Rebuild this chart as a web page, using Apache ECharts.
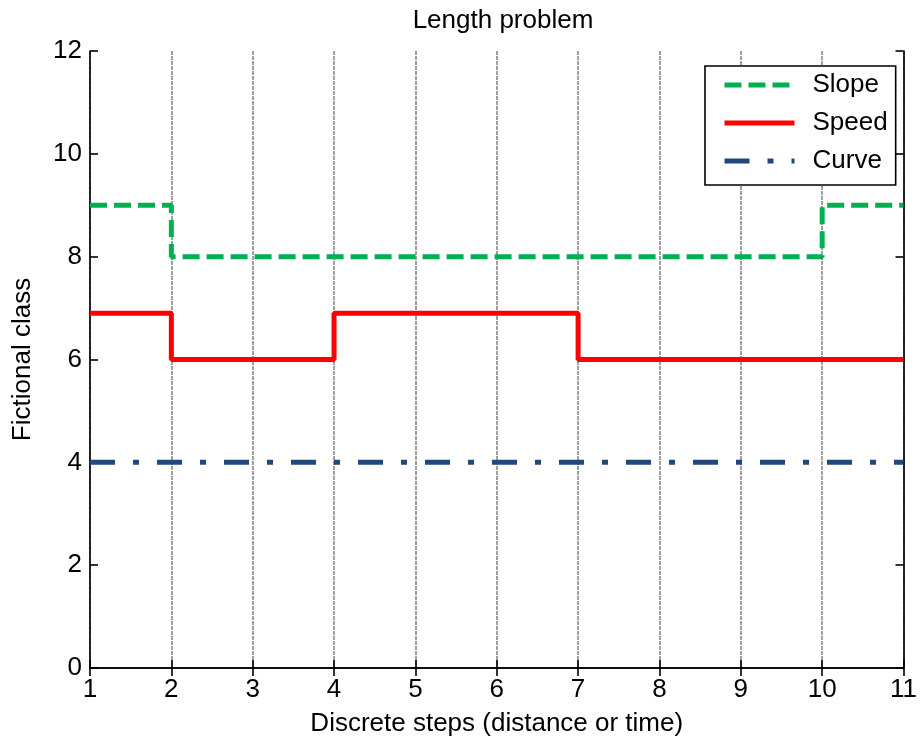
<!DOCTYPE html>
<html>
<head>
<meta charset="utf-8">
<script src="https://cdn.jsdelivr.net/npm/echarts@6/dist/echarts.min.js"></script>
<style>
  html, body { margin: 0; padding: 0; background: #fff; }
  #chart { width: 920px; height: 742px; }
</style>
</head>
<body>
<div id="chart"></div>
<script>
// Discrete step positions and the class of each signal at every step
const steps = [1, 2, 3, 4, 5, 6, 7, 8, 9, 10, 11];
const slope = [9, 8, 8, 8, 8, 8, 8, 8, 8, 9, 9];
const speed = [6.9, 6, 6, 6.9, 6.9, 6.9, 6, 6, 6, 6, 6];
const curve = [4, 4, 4, 4, 4, 4, 4, 4, 4, 4, 4];
const seriesNames = ['Slope', 'Speed', 'Curve'];

const FONT = 'Liberation Sans, Arial, sans-serif';
const FS = 26;

const pairs = vals => steps.map((s, i) => [s, vals[i]]);

const frameAxis = {
  axisLine: { show: true, lineStyle: { color: '#000', width: 1.6 } },
  axisTick: { show: true, inside: true, length: 8, lineStyle: { color: '#000', width: 1.6 } },
  splitLine: { show: false }
};

const chart = echarts.init(document.getElementById('chart'), null, { renderer: 'canvas' });
chart.setOption({
  backgroundColor: '#fff',
  animation: false,
  textStyle: { fontFamily: FONT },
  title: {
    text: 'Length problem',
    left: 498,
    textAlign: 'center',
    top: 3,
    textStyle: { fontFamily: FONT, fontSize: FS, fontWeight: 'normal', color: '#000' }
  },
  grid: { left: 90, right: 13, top: 51, bottom: 73, containLabel: false },
  legend: {
    data: seriesNames,
    orient: 'vertical',
    left: 705,
    top: 66,
    padding: [6, 8, 11, 17],
    itemGap: 12,
    itemWidth: 70,
    itemHeight: 14,
    borderColor: '#000',
    borderWidth: 1.6,
    backgroundColor: '#fff',
    itemStyle: { opacity: 0 },
    lineStyle: { width: 'inherit' },
    textStyle: { fontFamily: FONT, fontSize: FS, color: '#000', padding: [0, 0, 0, 13] }
  },
  xAxis: [
    Object.assign({
      type: 'value', min: 1, max: 11, interval: 1, position: 'bottom',
      name: 'Discrete steps (distance or time)',
      nameLocation: 'middle',
      nameGap: 43,
      nameTextStyle: { fontFamily: FONT, fontSize: FS, color: '#000' },
      axisLabel: { fontFamily: FONT, fontSize: FS, color: '#000', margin: 9 }
    }, frameAxis, {
      splitLine: { show: true, lineStyle: { color: '#808080', width: 1.5, type: [4, 1] } }
    }),
    Object.assign({
      type: 'value', min: 1, max: 11, interval: 1, position: 'top',
      axisLabel: { show: false }
    }, frameAxis)
  ],
  yAxis: [
    Object.assign({
      type: 'value', min: 0, max: 12, interval: 2, position: 'left',
      name: 'Fictional class',
      nameLocation: 'middle',
      nameGap: 54,
      nameTextStyle: { fontFamily: FONT, fontSize: FS, color: '#000' },
      axisLabel: { fontFamily: FONT, fontSize: FS, color: '#000', margin: 8 }
    }, frameAxis),
    Object.assign({
      type: 'value', min: 0, max: 12, interval: 2, position: 'right',
      axisLabel: { show: false }
    }, frameAxis)
  ],
  series: [
    {
      name: 'Slope', type: 'line', step: 'end', symbol: 'none', z: 3,
      data: pairs(slope),
      itemStyle: { color: '#00b050' },
      lineStyle: { color: '#00b050', width: 5, type: [17, 7] }
    },
    {
      name: 'Speed', type: 'line', step: 'end', symbol: 'none', z: 3,
      data: pairs(speed),
      itemStyle: { color: '#ff0000' },
      lineStyle: { color: '#ff0000', width: 5, type: 'solid' }
    },
    {
      name: 'Curve', type: 'line', step: 'end', symbol: 'none', z: 3,
      data: pairs(curve),
      itemStyle: { color: '#1f497d' },
      lineStyle: { color: '#1f497d', width: 5, type: [25, 18, 6, 18] }
    }
  ]
});
</script>
</body>
</html>
